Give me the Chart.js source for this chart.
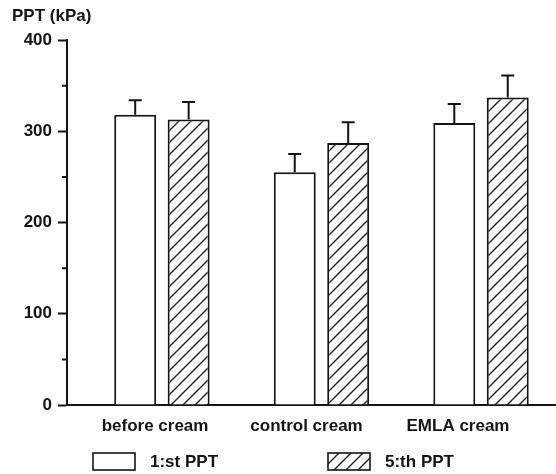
<!DOCTYPE html>
<html>
<head>
<meta charset="utf-8">
<script src="https://cdn.jsdelivr.net/npm/chart.js@4.4.0/dist/chart.umd.min.js"></script>
<style>
  body { margin: 0; background: #fff; }
</style>
</head>
<body>
<canvas id="pptChart" width="556" height="474"></canvas>
<script>
// chart data
const categories = ['before cream', 'control cream', 'EMLA cream'];
const seriesNames = ['1:st PPT', '5:th PPT'];
const firstPPT = [318, 255, 309];
const fifthPPT = [313, 287, 337];
const firstPPTErr = [16, 20, 21];
const fifthPPTErr = [19, 23, 24];
const yTicks = [0, 100, 200, 300, 400];
const yMinorTicks = [50, 150, 250, 350];
const yUnitLabel = 'PPT (kPa)';

const FONT = '"Liberation Sans", Arial, sans-serif';
const INK = '#141414';

Chart.defaults.font.family = FONT;
Chart.defaults.color = INK;

// diagonal hatch used for the 5:th PPT bars
function makeHatch() {
  const size = 12;
  const c = document.createElement('canvas');
  c.width = size;
  c.height = size;
  const g = c.getContext('2d');
  g.fillStyle = '#fff';
  g.fillRect(0, 0, size, size);
  g.strokeStyle = '#222';
  g.lineWidth = 1.4;
  g.beginPath();
  g.moveTo(0, size); g.lineTo(size, 0);
  g.moveTo(-size / 2, size / 2); g.lineTo(size / 2, -size / 2);
  g.moveTo(size / 2, size * 1.5); g.lineTo(size * 1.5, size / 2);
  g.stroke();
  return g.createPattern(c, 'repeat');
}

function toPoints(values) {
  return values.map((v, i) => ({ x: i, y: v }));
}

function categoryTicks(scale) {
  scale.ticks = categories.map((c, i) => ({ value: i }));
}

// error whiskers, minor ticks, legend and unit label
const extrasPlugin = {
  id: 'pptExtras',
  afterDatasetsDraw(chart) {
    const ctx = chart.ctx;
    const yScale = chart.scales.y;
    ctx.save();
    ctx.strokeStyle = INK;
    ctx.lineWidth = 2;
    chart.data.datasets.forEach((ds, i) => {
      const meta = chart.getDatasetMeta(i);
      meta.data.forEach((bar, j) => {
        const topY = yScale.getPixelForValue(ds.data[j].y + ds.errors[j]);
        ctx.beginPath();
        ctx.moveTo(bar.x, bar.y);
        ctx.lineTo(bar.x, topY);
        ctx.moveTo(bar.x - 6.5, topY);
        ctx.lineTo(bar.x + 6.5, topY);
        ctx.stroke();
      });
    });
    ctx.beginPath();
    yMinorTicks.forEach(v => {
      const py = yScale.getPixelForValue(v);
      ctx.moveTo(yScale.right - 5, py);
      ctx.lineTo(yScale.right, py);
    });
    ctx.stroke();
    ctx.restore();
  },
  afterDraw(chart) {
    const ctx = chart.ctx;
    const legendX = [93, 328];
    ctx.save();
    ctx.font = 'bold 17px ' + FONT;
    ctx.textBaseline = 'middle';
    ctx.textAlign = 'left';
    ctx.fillStyle = INK;
    ctx.fillText(yUnitLabel, 12, 16);
    chart.data.datasets.forEach((ds, i) => {
      const x = legendX[i];
      ctx.fillStyle = ds.backgroundColor;
      ctx.fillRect(x, 453, 42, 17);
      ctx.strokeStyle = INK;
      ctx.lineWidth = 1.6;
      ctx.strokeRect(x, 453, 42, 17);
      ctx.fillStyle = INK;
      ctx.fillText(ds.label, x + 57, 462);
    });
    ctx.restore();
  }
};

const ctx = document.getElementById('pptChart').getContext('2d');
new Chart(ctx, {
  type: 'bar',
  data: {
    datasets: [
      {
        label: seriesNames[0],
        data: toPoints(firstPPT),
        errors: firstPPTErr,
        xAxisID: 'x',
        backgroundColor: '#fff',
        borderColor: INK,
        borderWidth: 2,
        categoryPercentage: 0.67,
        barPercentage: 0.785,
      },
      {
        label: seriesNames[1],
        data: toPoints(fifthPPT),
        errors: fifthPPTErr,
        xAxisID: 'x',
        backgroundColor: makeHatch(),
        borderColor: INK,
        borderWidth: 2,
        categoryPercentage: 0.67,
        barPercentage: 0.785,
      }
    ]
  },
  options: {
    responsive: false,
    animation: false,
    layout: { padding: { top: 40, right: 0, bottom: 33, left: 0 } },
    plugins: {
      legend: { display: false },
      tooltip: { enabled: false }
    },
    scales: {
      x: {
        type: 'linear',
        display: false,
        offset: false,
        min: -0.595,
        max: 2.47,
        afterBuildTicks: categoryTicks
      },
      x2: {
        type: 'linear',
        position: 'bottom',
        offset: false,
        min: -0.581,
        max: 2.647,
        afterBuildTicks: categoryTicks,
        afterFit: scale => { scale.height = 36; },
        grid: { display: false, drawTicks: false, offset: false },
        border: { display: true, width: 2, color: INK },
        ticks: {
          padding: 11,
          autoSkip: false,
          maxRotation: 0,
          color: INK,
          font: { size: 17, weight: 'bold' },
          callback: v => categories[v]
        }
      },
      y: {
        min: 0,
        max: 400,
        afterBuildTicks: scale => { scale.ticks = yTicks.map(v => ({ value: v })); },
        afterFit: scale => { scale.width = 67; },
        grid: {
          display: true,
          drawOnChartArea: false,
          drawTicks: true,
          tickLength: 9,
          tickWidth: 2,
          tickColor: INK
        },
        border: { display: true, width: 2, color: INK },
        ticks: {
          padding: 6,
          color: INK,
          font: { size: 17, weight: 'bold' }
        }
      }
    }
  },
  plugins: [extrasPlugin]
});
</script>
</body>
</html>
